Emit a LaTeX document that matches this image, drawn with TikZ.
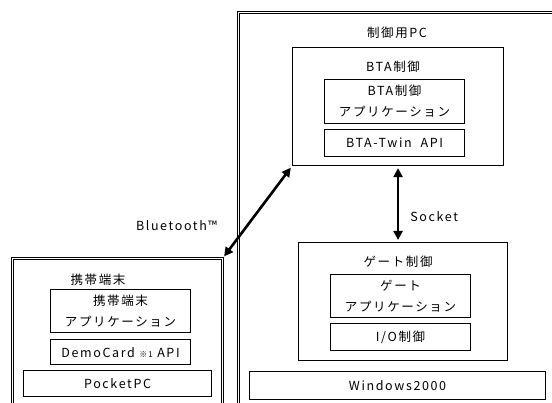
\documentclass[tikz,border=0pt]{standalone}
\usepackage{fontspec}
\setmainfont{Noto Sans CJK JP}[LetterSpace=13]
\usetikzlibrary{arrows.meta,positioning,calc}

\begin{document}
\begin{tikzpicture}[
  x=1pt, y=-1pt,
  font=\fontsize{12.5}{21}\selectfont,
  outerbox/.style={
    draw, double, double distance=1.3pt, line width=0.9pt,
    anchor=north west
  },
  grpbox/.style={draw, line width=1.1pt, anchor=north west},
  subbox/.style={
    draw, line width=1.1pt, anchor=north west,
    minimum width=140pt, align=center, inner sep=1pt
  },
  lbl/.style={inner sep=1pt},
  lnk/.style={{Triangle[length=9pt,width=9pt]}-{Triangle[length=9pt,width=9pt]},
    line width=2.6pt, shorten <=2pt, shorten >=2pt},
]
\useasboundingbox (0,0) rectangle (552,403);

%% control PC
\node[outerbox, minimum width=360pt, minimum height=430pt] (pc) at (238,12) {};
\node[lbl] (pctitle) at (397,33) {制御用PC};

\node[grpbox, minimum width=211pt, minimum height=118pt] (bta) at (292,47) {};
\node[lbl] (btatitle) at (393,67) {BTA制御};
\node[subbox, minimum height=44pt] (btaapp) at (324,79)
  {BTA制御\\アプリケーション};
\node[subbox, minimum height=27pt, below=5pt of btaapp.south west, anchor=north west]
  (btaapi) {BTA-Twin\ \ API};

\node[grpbox, minimum width=209pt, minimum height=118pt] (gate) at (298,242) {};
\node[lbl] (gatetitle) at (398,262) {ゲート制御};
\node[subbox, minimum height=43pt] (gateapp) at (330,274)
  {ゲート\\アプリケーション};
\node[subbox, minimum height=27pt, below=5pt of gateapp.south west, anchor=north west]
  (gateio) {I/O制御};

\node[subbox, minimum width=296pt, minimum height=28pt] (win) at (249,371) {Windows2000};

%% handheld terminal
\node[outerbox, minimum width=210pt, minimum height=200pt] (mobile) at (12,258) {};
\node[lbl] (mobtitle) at (98,280) {携帯端末};
\node[subbox, minimum height=43pt] (mobapp) at (50,289)
  {携帯端末\\アプリケーション};
\node[subbox, minimum height=25pt, below=6pt of mobapp.south west, anchor=north west]
  (mobapi) {DemoCard {\fontsize{8}{8}\selectfont ※1} API};
\node[subbox, minimum width=188pt, minimum height=26pt] (ppc) at (23,370) {PocketPC};

%% links
\draw[lnk] (mobile.north east)
  -- node[lbl, pos=0.355, left=28pt] {Bluetooth™}
  (bta.south west);
\draw[lnk] (bta.south)
  -- node[lbl, pos=0.66, right=10pt] {Socket}
  (bta.south |- gate.north);
\end{tikzpicture}
\end{document}
